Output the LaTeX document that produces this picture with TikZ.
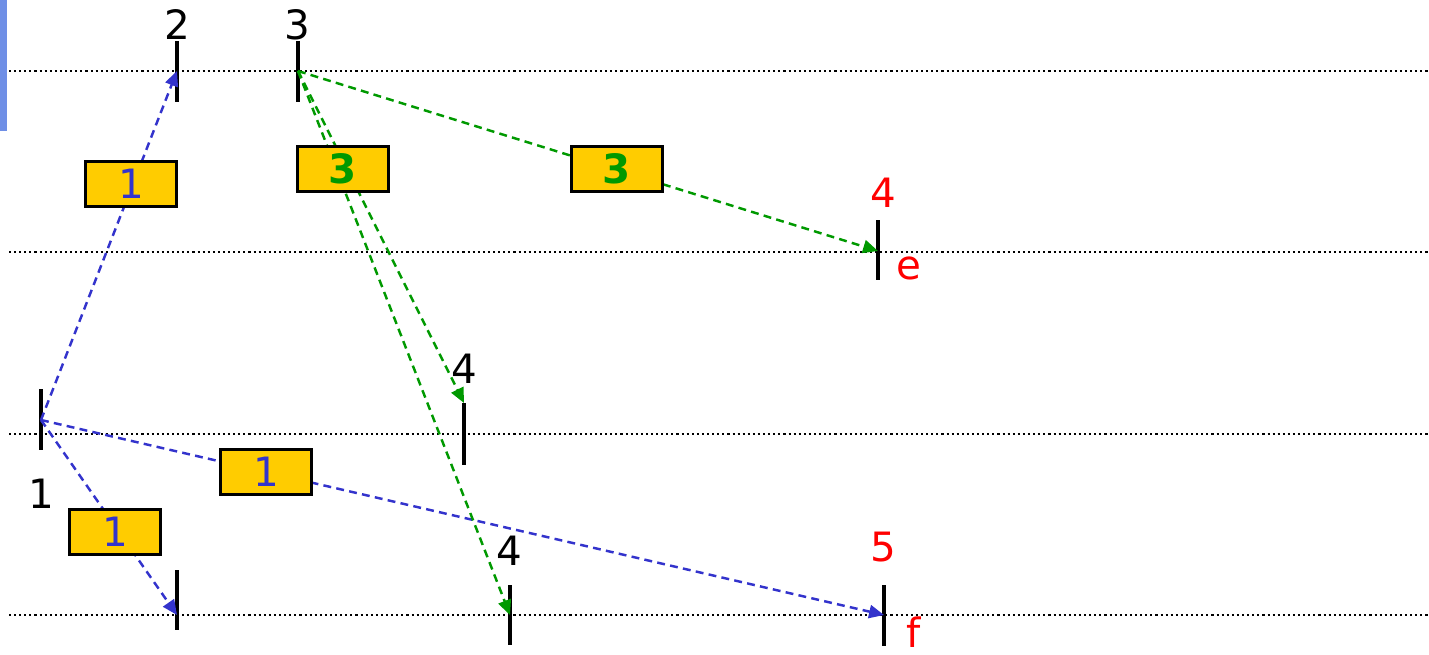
\documentclass[tikz,border=0pt]{standalone}
\usepackage{fontspec}
\setmainfont{DejaVu Sans}
\usetikzlibrary{arrows.meta}
\definecolor{msgblue}{RGB}{51,51,204}
\definecolor{msggreen}{RGB}{0,153,0}
\definecolor{tagyellow}{RGB}{255,204,0}
\definecolor{barblue}{RGB}{111,143,230}

\begin{document}
\begin{tikzpicture}[x=0.02cm,y=-0.02cm,
  lbl/.style={inner sep=0pt,font=\fontsize{23}{26}\selectfont},
  hot/.style={lbl,text=red},
  tag/.style={draw,line width=1.6pt,fill=tagyellow,minimum width=1.82cm,minimum height=0.9cm,inner sep=0pt,font=\fontsize{23}{26}\selectfont},
  bluetag/.style={tag,text=msgblue},
  greentag/.style={tag,text=msggreen,font=\fontsize{23}{26}\selectfont\bfseries},
  tick/.style={line width=2pt},
  lane/.style={line width=1.3pt,dash pattern=on 1.2pt off 1.7pt},
  arr/.style={-{Triangle[length=8.5pt,width=7.5pt]},line width=1.4pt,dash pattern=on 4.5pt off 3pt}]
\useasboundingbox (0,0) rectangle (1429,655);
\fill[barblue] (0,0) rectangle (7,131);
\foreach \y in {71,252,434,615} \draw[lane] (9,\y) -- (1429,\y);
\foreach \x/\a/\b in {41/389/450,177/41/102,298/41/102,464/403/465,878/220/280,177/570/630,510/585/645,884/585/646}
  \draw[tick] (\x,\a) -- (\x,\b);
\coordinate (s1) at (41,420);
\coordinate (s2) at (177,71);
\coordinate (s3) at (298,71);
\coordinate (m4) at (464,403);
\coordinate (e4) at (878,251);
\coordinate (b1) at (177,615);
\coordinate (b4) at (510,615);
\coordinate (f5) at (884,615);
\node[lbl] (n2) at (177,25) {2};
\node[lbl] (n3) at (297,25) {3};
\node[lbl] (n1) at (41,494) {1};
\node[lbl] (nm4) at (464,369) {4};
\node[lbl] (nb4) at (509,551) {4};
\node[hot] (ne4) at (883,193) {4};
\node[hot] (ne) at (909,268) {e};
\node[hot] (nf5) at (883,547) {5};
\node[hot] (nf) at (914,632) {f};
\draw[arr,msgblue] (s1) -- (s2);
\draw[arr,msgblue] (s1) -- (b1);
\draw[arr,msgblue] (s1) -- (f5);
\draw[arr,msggreen] (s3) -- (e4);
\draw[arr,msggreen] (s3) -- (m4);
\draw[arr,msggreen] (s3) -- (b4);
\node[bluetag] (tagup) at (131,184) {1};
\node[greentag] (tagmid) at (343,169) {3};
\node[greentag] (tagright) at (617,169) {3};
\node[bluetag] (tagfar) at (266,472) {1};
\node[bluetag] (tagdown) at (115,532) {1};
\end{tikzpicture}
\end{document}
